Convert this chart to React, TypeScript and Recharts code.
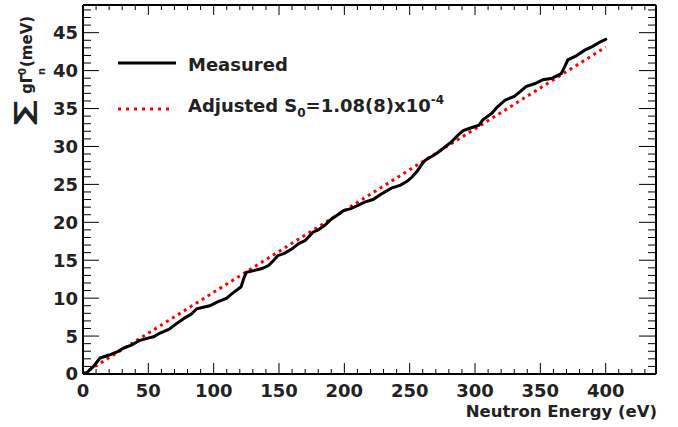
import { LineChart, Line, XAxis, YAxis, Legend } from 'recharts';

// measured cumulative sum
const measuredEnergy = [
  0, 3, 8, 13, 20, 26, 31, 37, 43, 49, 54, 59, 66, 72, 78, 83, 87, 92, 97, 103,
  110, 114, 118, 121, 123, 125, 130, 137, 142, 146, 149, 154, 160, 165, 170, 176, 180, 185, 190, 195,
  199, 205, 210, 216, 222, 228, 236, 243, 248, 252, 256, 259, 262, 267, 270, 276, 282, 287, 291, 296,
  303, 306, 313, 317, 323, 330, 335, 339, 346, 352, 359, 366, 368, 371, 377, 384, 390, 396, 401,
];
const measuredSum = [
  0, 0.2, 1.0, 2.1, 2.5, 2.9, 3.4, 3.8, 4.4, 4.7, 4.9, 5.4, 5.9, 6.7, 7.4, 7.9, 8.6, 8.8, 9.0, 9.5,
  10.0, 10.6, 11.1, 11.5, 12.6, 13.4, 13.6, 13.9, 14.3, 15.0, 15.6, 15.9, 16.5, 17.2, 17.6, 18.7, 19.0, 19.6, 20.4, 21.0,
  21.5, 21.8, 22.2, 22.7, 23.0, 23.7, 24.5, 24.9, 25.4, 26.0, 26.8, 27.6, 28.2, 28.7, 29.0, 29.8, 30.6, 31.5, 32.1, 32.4,
  32.8, 33.5, 34.4, 35.2, 36.1, 36.6, 37.3, 37.9, 38.3, 38.8, 39.0, 39.6, 40.3, 41.4, 41.9, 42.7, 43.2, 43.8, 44.2,
];

// adjusted line S0 = 1.08(8)x10^-4
const fitEnergy = [0, 400];
const fitSum = [0, 43.1];

const xTicks = [
  0, 10, 20, 30, 40, 50, 60, 70, 80, 90, 100, 110, 120, 130, 140, 150, 160, 170, 180, 190, 200, 210,
  220, 230, 240, 250, 260, 270, 280, 290, 300, 310, 320, 330, 340, 350, 360, 370, 380, 390, 400, 410,
  420, 430,
];
const xLabels = [0, 50, 100, 150, 200, 250, 300, 350, 400];
const yTicks = [
  0, 1, 2, 3, 4, 5, 6, 7, 8, 9, 10, 11, 12, 13, 14, 15, 16, 17, 18, 19, 20, 21, 22, 23, 24, 25, 26, 27,
  28, 29, 30, 31, 32, 33, 34, 35, 36, 37, 38, 39, 40, 41, 42, 43, 44, 45, 46, 47, 48,
];
const yLabels = [0, 5, 10, 15, 20, 25, 30, 35, 40, 45];

const measuredData = measuredEnergy.map((e, i) => ({ e, v: measuredSum[i] }));
const fitData = fitEnergy.map((e, i) => ({ e, v: fitSum[i] }));

const FONT = '"DejaVu Sans", sans-serif';

/* eslint-disable @typescript-eslint/no-explicit-any */
const BottomTick = ({ x, y, payload }: any) => {
  const major = xLabels.includes(payload.value);
  return (
    <g>
      <line x1={x} x2={x} y1={y} y2={y - (major ? 11 : 5)} stroke="#000" strokeWidth={1} />
      {major && (
        <text x={x} y={y + 23} textAnchor="middle" fontFamily={FONT} fontWeight="bold" fontSize={18} fill="#222">
          {payload.value}
        </text>
      )}
    </g>
  );
};

const TopTick = ({ x, y, payload }: any) => {
  const major = xLabels.includes(payload.value);
  return <line x1={x} x2={x} y1={y} y2={y + (major ? 10 : 5)} stroke="#000" strokeWidth={1} />;
};

const LeftTick = ({ x, y, payload }: any) => {
  const major = yLabels.includes(payload.value);
  return (
    <g>
      <line x1={x} x2={x + (major ? 16 : 8)} y1={y} y2={y} stroke="#000" strokeWidth={1} />
      {major && (
        <text x={x - 5} y={y} dy="0.36em" textAnchor="end" fontFamily={FONT} fontWeight="bold" fontSize={18} fill="#222">
          {payload.value}
        </text>
      )}
    </g>
  );
};

const RightTick = ({ x, y, payload }: any) => {
  const major = yLabels.includes(payload.value);
  return <line x1={x} x2={x - (major ? 17 : 8)} y1={y} y2={y} stroke="#000" strokeWidth={1} />;
};

// rotated y title: ∑ gΓ^0_n (meV)
const YTitle = () => (
  <g transform="translate(32, 125) rotate(-90)" fontFamily={FONT} fontWeight="bold" fill="#222">
    <text x={0} y={0} fontSize={25} transform="scale(1.4, 1)">∑</text>
    <text x={31} y={0} fontSize={15}>gΓ</text>
    <text x={50} y={-6} fontSize={10}>0</text>
    <text x={50} y={13} fontSize={10}>n</text>
    <text x={58} y={0} fontSize={15}>(meV)</text>
  </g>
);

const XTitle = () => (
  <text x={657} y={417} textAnchor="end" fontFamily={FONT} fontWeight="bold" fontSize={16.5} fill="#222">
    Neutron Energy (eV)
  </text>
);

const LegendBox = () => (
  <svg width={360} height={80} style={{ display: 'block' }}>
    <g fontFamily={FONT} fontWeight="bold" fill="#222">
      <line x1={8} x2={66} y1={18} y2={18} stroke="#000" strokeWidth={3} />
      <text x={78} y={26} fontSize={18}>Measured</text>
      <line x1={8} x2={64} y1={64} y2={64} stroke="#ff0000" strokeWidth={3} strokeDasharray="3 5" />
      <text x={78} y={67} fontSize={18}>
        <tspan>Adjusted</tspan>
        <tspan dx={6}>S</tspan>
        <tspan fontSize={12} dy={5}>0</tspan>
        <tspan fontSize={18} dy={-5}>=1.08(8)x10</tspan>
        <tspan fontSize={12} dy={-8}>-4</tspan>
      </text>
    </g>
  </svg>
);

const axisLine = { stroke: '#000', strokeWidth: 2 };

export default function App() {
  return (
    <div style={{ position: 'absolute', left: 0, top: 0, width: 678, height: 427, background: '#fff' }}>
      <LineChart width={678} height={427} margin={{ top: 4, right: 21, bottom: 52, left: 82 }}>
        <XAxis
          xAxisId="b"
          type="number"
          dataKey="e"
          domain={[0, 438.5]}
          ticks={xTicks}
          interval={0}
          height={1}
          tickSize={0}
          tickMargin={0}
          tick={<BottomTick />}
          axisLine={axisLine}
          allowDataOverflow
          label={{ content: () => <XTitle /> }}
        />
        <XAxis
          xAxisId="t"
          orientation="top"
          type="number"
          dataKey="e"
          domain={[0, 438.5]}
          ticks={xTicks}
          interval={0}
          height={1}
          tickSize={0}
          tickMargin={0}
          tick={<TopTick />}
          axisLine={axisLine}
          allowDataOverflow
        />
        <YAxis
          yAxisId="l"
          type="number"
          domain={[0, 48.65]}
          ticks={yTicks}
          interval={0}
          width={1}
          tickSize={0}
          tickMargin={0}
          tick={<LeftTick />}
          axisLine={axisLine}
          allowDataOverflow
          label={{ content: () => <YTitle /> }}
        />
        <YAxis
          yAxisId="r"
          orientation="right"
          type="number"
          domain={[0, 48.65]}
          ticks={yTicks}
          interval={0}
          width={1}
          tickSize={0}
          tickMargin={0}
          tick={<RightTick />}
          axisLine={axisLine}
          allowDataOverflow
        />
        <Legend
          layout="vertical"
          align="center"
          verticalAlign="middle"
          content={() => <LegendBox />}
          wrapperStyle={{ left: 110, top: 45, width: 360, height: 80 }}
        />
        <Line
          xAxisId="b"
          yAxisId="l"
          data={fitData}
          dataKey="v"
          name="Adjusted"
          type="linear"
          stroke="#ff0000"
          strokeWidth={3}
          strokeDasharray="3 4"
          dot={false}
          isAnimationActive={false}
        />
        <Line
          xAxisId="b"
          yAxisId="l"
          data={measuredData}
          dataKey="v"
          name="Measured"
          type="linear"
          stroke="#000"
          strokeWidth={3}
          dot={false}
          isAnimationActive={false}
        />
      </LineChart>
    </div>
  );
}
